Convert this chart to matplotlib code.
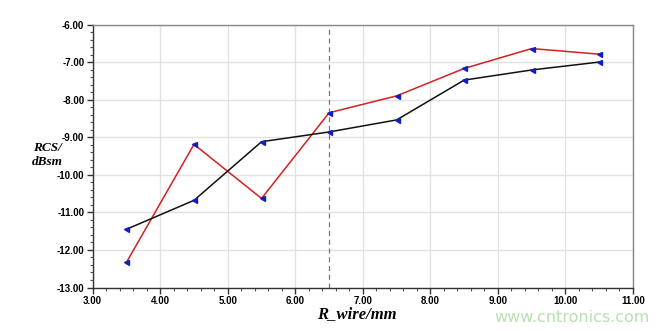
import matplotlib

matplotlib.use("Agg")
import matplotlib.pyplot as plt
from matplotlib.ticker import MultipleLocator, FormatStrFormatter

r_wire = [3.5, 4.5, 5.5, 6.5, 7.5, 8.5, 9.5, 10.5]
rcs_red = [-12.33, -9.19, -10.63, -8.35, -7.90, -7.17, -6.64, -6.79]
rcs_black = [-11.45, -10.68, -9.12, -8.86, -8.54, -7.48, -7.21, -7.00]

fig = plt.figure(figsize=(6.69, 3.31), dpi=100)
ax = fig.add_axes([92.7 / 669, 1 - 287.5 / 331, (633 - 92.7) / 669, (287.5 - 24.5) / 331])

ax.plot(r_wire, rcs_red, color="#d42020", lw=1.1, zorder=3)
ax.plot(r_wire, rcs_black, color="#111111", lw=1.1, zorder=3)
ax.plot(r_wire, rcs_red, ls="none", marker="<", ms=3.6, color="#1020c0", zorder=4)
ax.plot(r_wire, rcs_black, ls="none", marker="<", ms=3.6, color="#1020c0", zorder=4)
ax.axvline(6.5, color="#777777", lw=0.9, ls=(0, (4, 3)), zorder=2)

ax.set_xlim(3, 11)
ax.set_ylim(-13, -6)
ax.xaxis.set_major_locator(MultipleLocator(1))
ax.xaxis.set_minor_locator(MultipleLocator(0.2))
ax.yaxis.set_major_locator(MultipleLocator(1))
ax.yaxis.set_minor_locator(MultipleLocator(0.2))
ax.xaxis.set_major_formatter(FormatStrFormatter("%.2f"))
ax.yaxis.set_major_formatter(FormatStrFormatter("%.2f"))
ax.grid(True, which="major", color="#e2e2e2", lw=1.0, zorder=0)
ax.tick_params(which="major", direction="out", length=4, width=1, color="#333333",
               labelsize=7, pad=2)
ax.tick_params(which="minor", direction="out", length=2, width=0.8, color="#555555")
for lbl in ax.get_xticklabels() + ax.get_yticklabels():
    lbl.set_fontweight("bold")
    lbl.set_family("Liberation Sans")

for side in ["top", "right"]:
    ax.spines[side].set_color("#888888")
    ax.spines[side].set_linewidth(1.0)
for side in ["left", "bottom"]:
    ax.spines[side].set_color("#333333")
    ax.spines[side].set_linewidth(1.0)

fig.text(47 / 669, 1 - 155 / 331, "RCS/\ndBsm", ha="center", va="center",
         family="Liberation Serif", style="italic", weight="bold", fontsize=9.5,
         linespacing=1.3)
fig.text(357 / 669, 1 - 314 / 331, "R_wire/mm", ha="center", va="center",
         family="Liberation Serif", style="italic", weight="bold", fontsize=12)
fig.text(650 / 669, 1 - 317 / 331, "www.cntronics.com", ha="right", va="center",
         color="#b8e0b0", fontsize=11.5)

plt.savefig("out.png", dpi=100)
plt.close()
